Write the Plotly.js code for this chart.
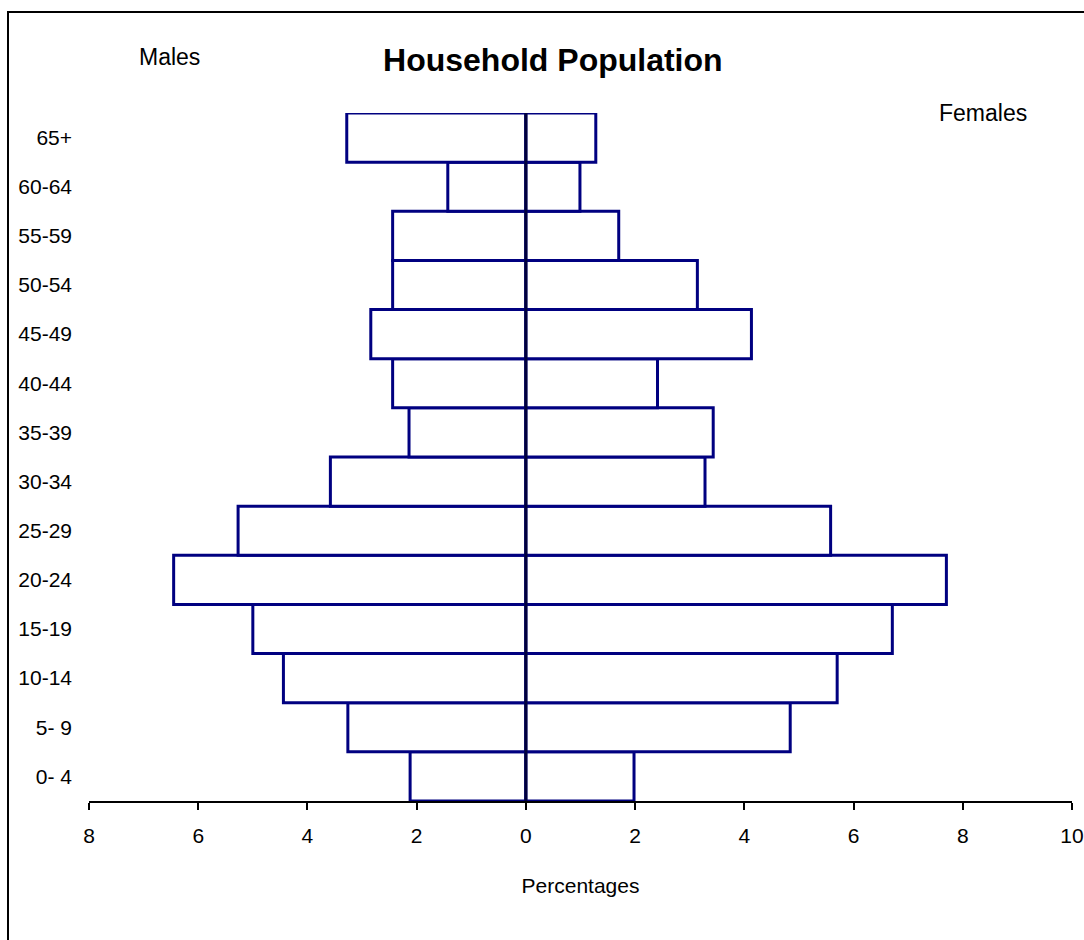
<!DOCTYPE html>
<html>
<head>
<meta charset="utf-8">
<script src="https://cdn.plot.ly/plotly-3.0.1.min.js"></script>
<style>html,body{margin:0;padding:0;background:#fff;}#chart{width:1084px;height:940px;}</style>
</head>
<body>
<div id="chart"></div>
<script>
const ageGroups = ['0- 4','5- 9','10-14','15-19','20-24','25-29','30-34','35-39','40-44','45-49','50-54','55-59','60-64','65+'];
const males   = [2.12, 3.26, 4.44, 5.00, 6.45, 5.27, 3.58, 2.14, 2.44, 2.84, 2.44, 2.44, 1.43, 3.28];
const females = [1.98, 4.84, 5.70, 6.71, 7.70, 5.58, 3.28, 3.43, 2.41, 4.13, 3.14, 1.70, 0.99, 1.28];
const tickVals = [-8, -6, -4, -2, 0, 2, 4, 6, 8, 10];
const tickText = ['8', '6', '4', '2', '0', '2', '4', '6', '8', '10'];

const FONT = 'Liberation Sans, Arial, sans-serif';
const NAVY = '#000080';

const barStyle = {color: '#ffffff', line: {color: NAVY, width: 3}};

const traces = [
  {type: 'bar', orientation: 'h', name: 'Males', y: ageGroups, x: males.map(v => -v),
   marker: barStyle, hoverinfo: 'skip'},
  {type: 'bar', orientation: 'h', name: 'Females', y: ageGroups, x: females,
   marker: barStyle, hoverinfo: 'skip'}
];

const layout = {
  width: 1084, height: 940,
  paper_bgcolor: '#ffffff', plot_bgcolor: '#ffffff',
  margin: {l: 89, r: 12, t: 113, b: 139, pad: 0},
  showlegend: false,
  barmode: 'relative',
  bargap: 0,
  font: {family: FONT, color: '#000000', size: 21},
  title: {
    text: 'Household Population',
    font: {family: FONT, size: 32, weight: 'bold', color: '#000000'},
    xref: 'container', yref: 'container',
    x: 0.510, y: 0.936, xanchor: 'center', yanchor: 'middle'
  },
  xaxis: {
    range: [-8, 10],
    tickmode: 'array', tickvals: tickVals, ticktext: tickText,
    showgrid: false, zeroline: false,
    showline: true, linecolor: '#000000', linewidth: 2,
    ticks: 'outside', ticklen: 7, tickwidth: 2, tickcolor: '#000000',
    ticklabelstandoff: 8,
    tickfont: {family: FONT, size: 21, color: '#000000'},
    title: {text: 'Percentages', font: {family: FONT, size: 21, color: '#000000'}, standoff: 32},
    fixedrange: true
  },
  yaxis: {
    type: 'category',
    categoryorder: 'array', categoryarray: ageGroups,
    showgrid: false, zeroline: false, showline: false,
    ticks: '', ticklabelstandoff: 16,
    tickfont: {family: FONT, size: 21, color: '#000000'},
    fixedrange: true
  },
  annotations: [
    {text: 'Males', xref: 'paper', yref: 'paper', x: 0.0824, y: 1.0814,
     xanchor: 'center', yanchor: 'middle', showarrow: false,
     font: {family: FONT, size: 23, color: '#000000'}},
    {text: 'Females', xref: 'paper', yref: 'paper', x: 0.9095, y: 1.0,
     xanchor: 'center', yanchor: 'middle', showarrow: false,
     font: {family: FONT, size: 23, color: '#000000'}}
  ],
  shapes: [
    {type: 'line', xref: 'x', yref: 'paper', x0: 0, x1: 0, y0: 0, y1: 1,
     line: {color: '#00003c', width: 3}, layer: 'above'},
    {type: 'rect', xref: 'paper', yref: 'paper', x0: -0.0824, x1: 1.2, y0: -0.5, y1: 1.1468,
     line: {color: '#000000', width: 2}, fillcolor: 'rgba(0,0,0,0)', layer: 'above'}
  ]
};

Plotly.newPlot('chart', traces, layout, {displayModeBar: false, staticPlot: true});
</script>
</body>
</html>
